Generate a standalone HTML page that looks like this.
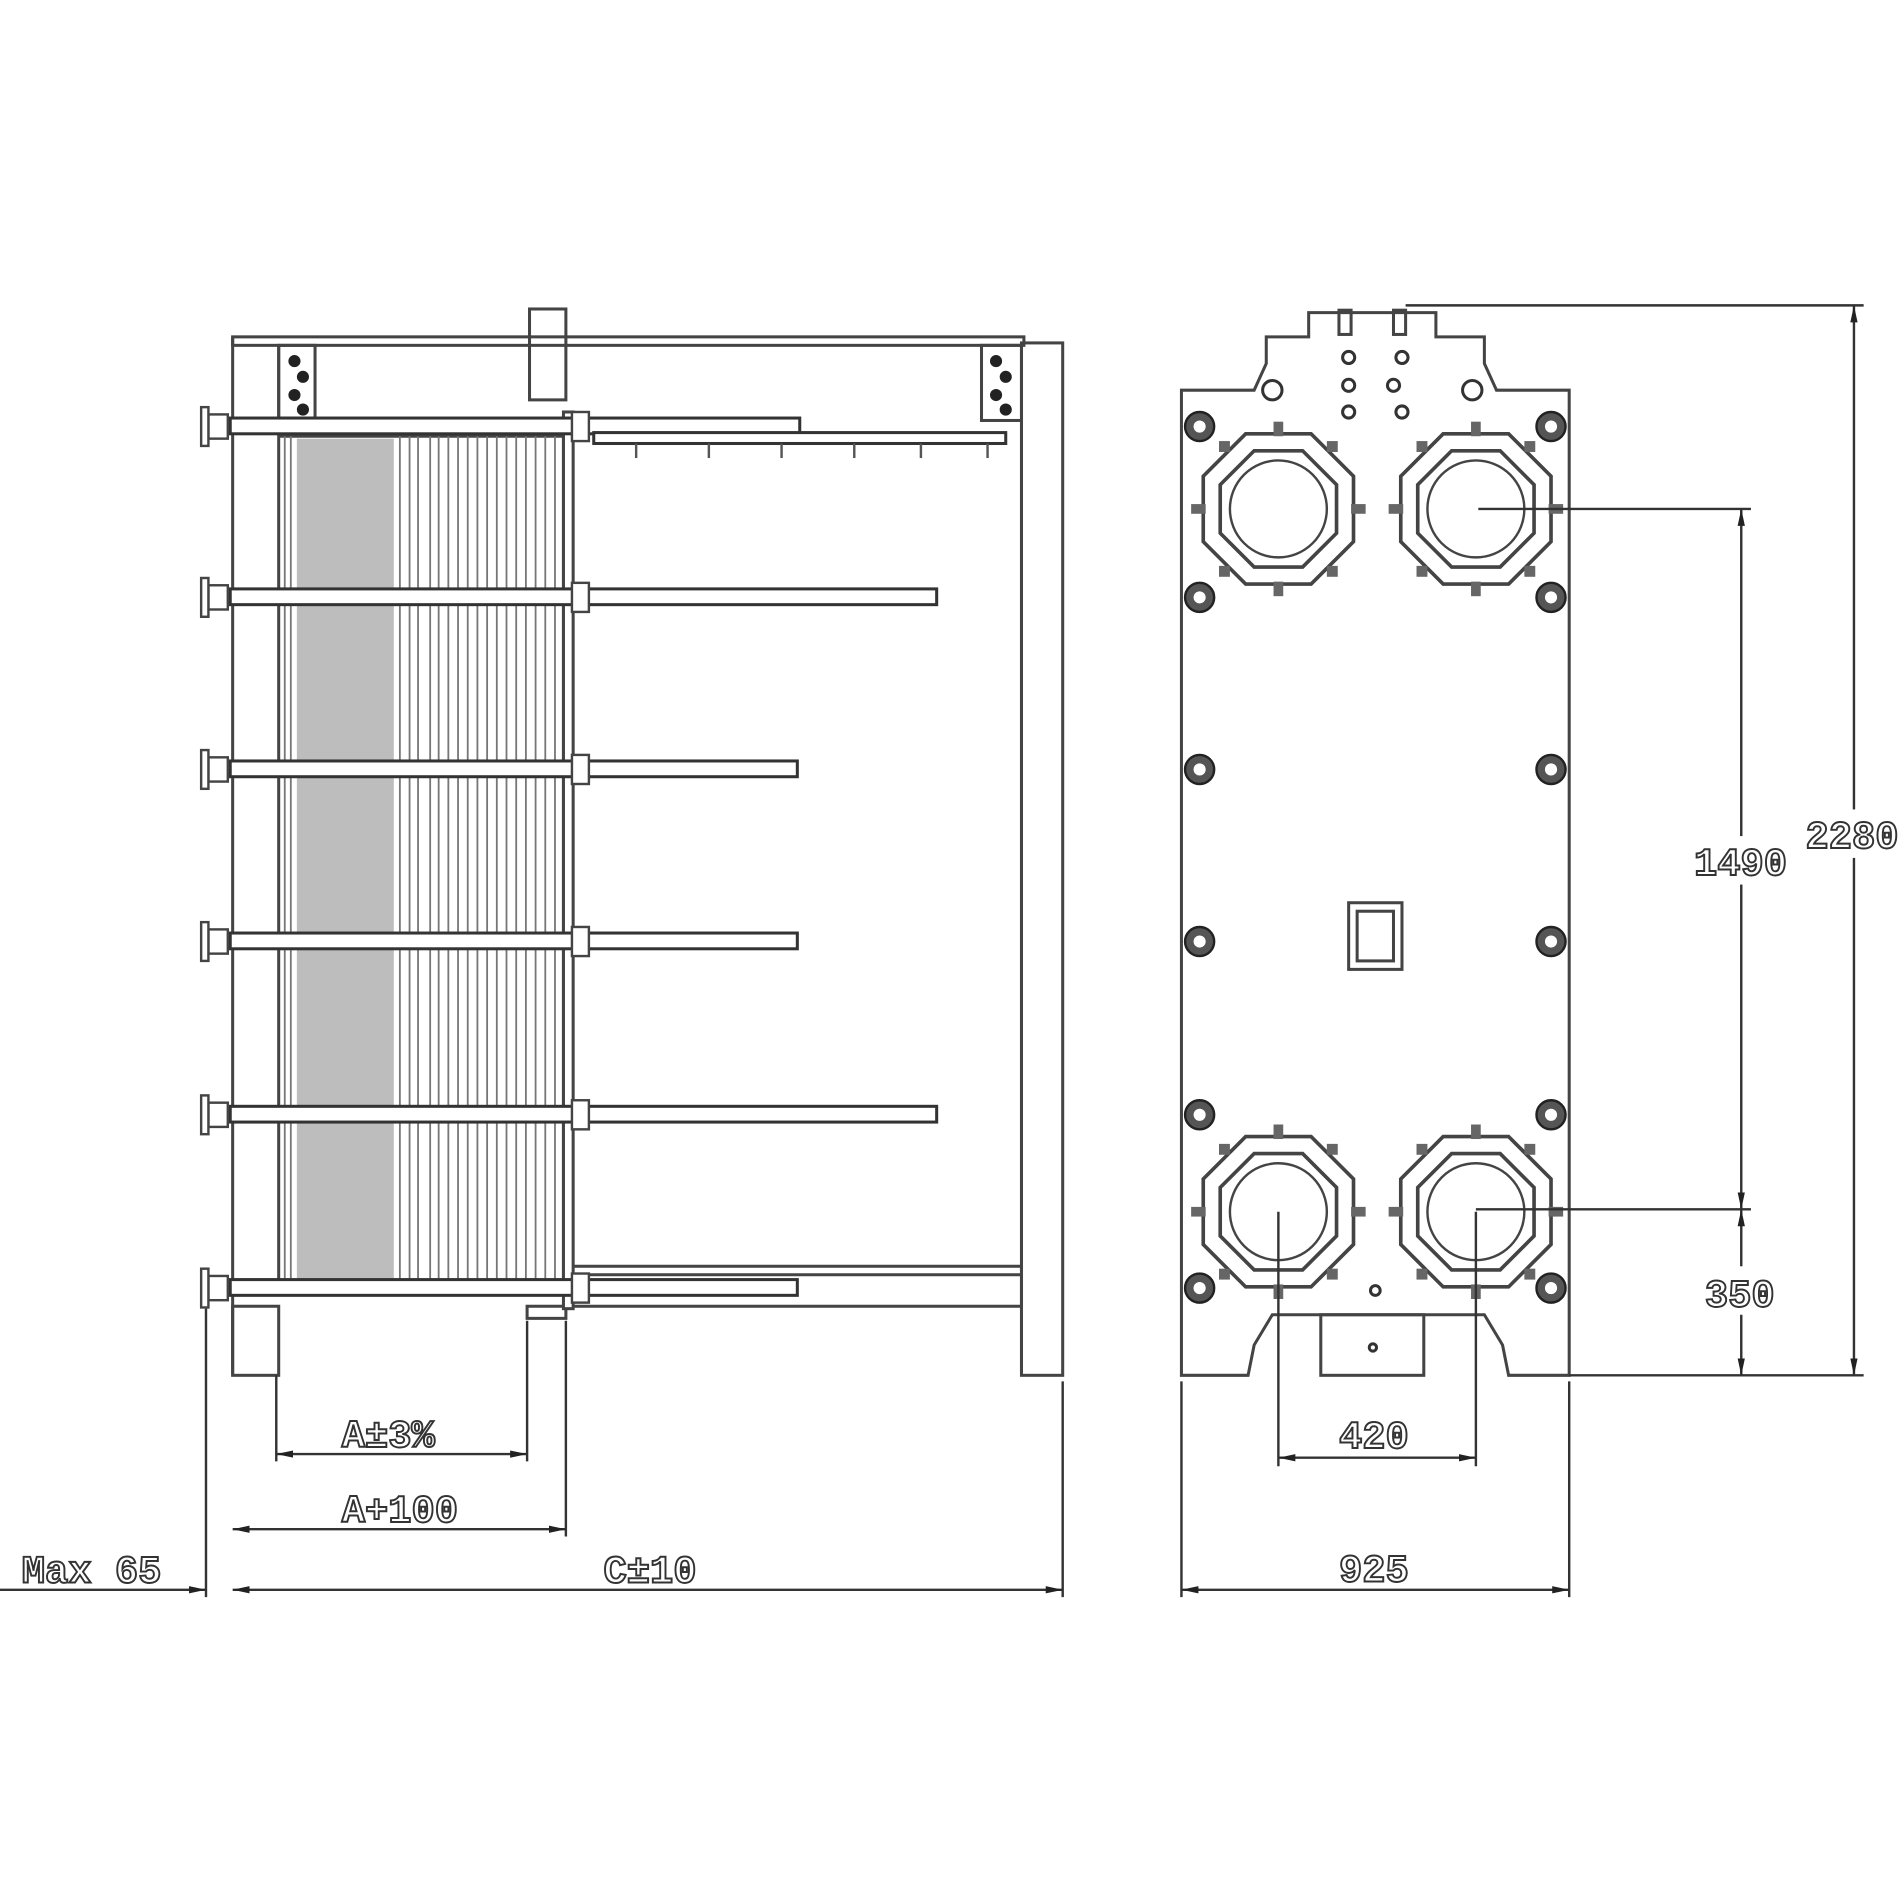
<!DOCTYPE html>
<html><head><meta charset="utf-8"><style>
html,body{margin:0;padding:0;background:#fff;width:1900px;height:1900px;overflow:hidden}
svg{display:block}
text{font-family:"Liberation Mono",monospace;font-size:32px;fill:#fff;stroke:#333;stroke-width:1.6;font-weight:bold}
</style></head><body>
<svg width="1900" height="1900" viewBox="0 0 1568 1568" xmlns="http://www.w3.org/2000/svg">
<defs>
<marker id="ar" markerWidth="14" markerHeight="8" refX="14" refY="4" orient="auto-start-reverse" markerUnits="userSpaceOnUse"><path d="M0,1 L14,4 L0,7 Z" fill="#222"/></marker>
<g id="bolt"><rect x="-8" y="-10" width="16" height="20" fill="#fff" stroke="#444" stroke-width="2"/><rect x="-14" y="-16" width="6" height="32" fill="#fff" stroke="#444" stroke-width="2"/></g>
<g id="nut"><circle r="12" fill="#555" stroke="#222" stroke-width="2"/><circle r="5" fill="#fff"/></g>
<g id="port" fill="none" stroke="#444" stroke-width="3">
<polygon points="-27,-62 27,-62 62,-27 62,27 27,62 -27,62 -62,27 -62,-27"/>
<polygon points="-20,-48 20,-48 48,-20 48,20 20,48 -20,48 -48,20 -48,-20"/>
<circle r="40" stroke-width="2"/>
<g fill="#666" stroke="none"><rect x="-4" y="-72" width="8" height="12"/><rect x="-4" y="60" width="8" height="12"/><rect x="-72" y="-4" width="12" height="8"/><rect x="60" y="-4" width="12" height="8"/><rect x="40" y="-56" width="9" height="9"/><rect x="-49" y="-56" width="9" height="9"/><rect x="40" y="47" width="9" height="9"/><rect x="-49" y="47" width="9" height="9"/></g>
</g>
</defs>

<!-- LEFT VIEW -->
<g fill="none" stroke="#444" stroke-width="2.5">
<rect x="192" y="278" width="653" height="7"/>
<line x1="192" y1="278" x2="192" y2="1135"/>
<line x1="230" y1="285" x2="230" y2="345"/>
<rect x="192" y="1078" width="38" height="57"/>
<rect x="843" y="283" width="34" height="852"/>
<line x1="843" y1="285" x2="843" y2="1135"/>
<rect x="810" y="285" width="33" height="62"/>
<rect x="230" y="285" width="30" height="60"/>
<rect x="437" y="255" width="30" height="75"/>
<rect x="470" y="1045" width="373" height="33"/>
<line x1="470" y1="1052" x2="843" y2="1052"/>
<rect x="435" y="1078" width="32" height="10"/>
<!-- plate pack -->
<rect x="230" y="360" width="235" height="700"/>
</g>
<rect x="245" y="362" width="80" height="696" fill="#bdbdbd"/>
<g stroke="#777" stroke-width="1.5">
<line x1="235" y1="360" x2="235" y2="1060"/><line x1="240" y1="360" x2="240" y2="1060"/>
<line x1="330" y1="360" x2="330" y2="1060"/><line x1="338" y1="360" x2="338" y2="1060"/>
<line x1="345" y1="360" x2="345" y2="1060"/><line x1="355" y1="360" x2="355" y2="1060"/>
<line x1="362" y1="360" x2="362" y2="1060"/><line x1="370" y1="360" x2="370" y2="1060"/>
<line x1="378" y1="360" x2="378" y2="1060"/><line x1="386" y1="360" x2="386" y2="1060"/>
<line x1="394" y1="360" x2="394" y2="1060"/><line x1="402" y1="360" x2="402" y2="1060"/>
<line x1="410" y1="360" x2="410" y2="1060"/><line x1="418" y1="360" x2="418" y2="1060"/>
<line x1="426" y1="360" x2="426" y2="1060"/><line x1="434" y1="360" x2="434" y2="1060"/>
<line x1="442" y1="360" x2="442" y2="1060"/><line x1="450" y1="360" x2="450" y2="1060"/>
<line x1="458" y1="360" x2="458" y2="1060"/>
</g>
<g fill="#fff" stroke="#444" stroke-width="2.5">
<rect x="465" y="340" width="8" height="740"/>
</g>
<!-- bolts -->
<g fill="#fff" stroke="#333" stroke-width="2.5">
<rect x="190" y="345" width="470" height="13"/>
<rect x="190" y="486" width="583" height="13"/>
<rect x="190" y="628" width="468" height="13"/>
<rect x="190" y="770" width="468" height="13"/>
<rect x="190" y="913" width="583" height="13"/>
<rect x="190" y="1056" width="468" height="13"/>
<rect x="490" y="357" width="340" height="9"/>
</g>
<g fill="none" stroke="#555" stroke-width="2">
<line x1="525" y1="366" x2="525" y2="378"/><line x1="585" y1="366" x2="585" y2="378"/><line x1="645" y1="366" x2="645" y2="378"/><line x1="705" y1="366" x2="705" y2="378"/><line x1="760" y1="366" x2="760" y2="378"/><line x1="815" y1="366" x2="815" y2="378"/>
</g>
<use href="#bolt" x="180" y="352"/><use href="#bolt" x="180" y="493"/><use href="#bolt" x="180" y="635"/><use href="#bolt" x="180" y="777"/><use href="#bolt" x="180" y="920"/><use href="#bolt" x="180" y="1063"/>
<g fill="#fff" stroke="#444" stroke-width="2">
<rect x="472" y="340" width="14" height="24"/><rect x="472" y="481" width="14" height="24"/><rect x="472" y="623" width="14" height="24"/><rect x="472" y="765" width="14" height="24"/><rect x="472" y="908" width="14" height="24"/><rect x="472" y="1051" width="14" height="24"/>
</g>
<g fill="#222"><circle cx="243" cy="298" r="5"/><circle cx="250" cy="311" r="5"/><circle cx="243" cy="326" r="5"/><circle cx="250" cy="338" r="5"/>
<circle cx="822" cy="298" r="5"/><circle cx="830" cy="311" r="5"/><circle cx="822" cy="326" r="5"/><circle cx="830" cy="338" r="5"/></g>

<!-- left dims -->
<g stroke="#333" stroke-width="2" fill="none">
<line x1="170" y1="1080" x2="170" y2="1318"/>
<line x1="228" y1="1135" x2="228" y2="1206"/><line x1="435" y1="1090" x2="435" y2="1206"/>
<line x1="467" y1="1090" x2="467" y2="1268"/><line x1="877" y1="1140" x2="877" y2="1318"/>
<line x1="228" y1="1200" x2="435" y2="1200" marker-start="url(#ar)" marker-end="url(#ar)"/>
<line x1="192" y1="1262" x2="467" y2="1262" marker-start="url(#ar)" marker-end="url(#ar)"/>
<line x1="192" y1="1312" x2="877" y2="1312" marker-start="url(#ar)" marker-end="url(#ar)"/>
<line x1="0" y1="1312" x2="170" y2="1312" marker-end="url(#ar)"/>
</g>
<text x="282" y="1194">A±3%</text>
<text x="282" y="1256">A+100</text>
<text x="498" y="1306">C±10</text>
<text x="18" y="1306">Max 65</text>

<!-- RIGHT VIEW -->
<g fill="none" stroke="#444" stroke-width="2.5">
<path d="M975,1135 L975,322 L1035,322 L1045,300 L1045,278 L1080,278 L1080,258 L1185,258 L1185,278 L1225,278 L1225,300 L1235,322 L1295,322 L1295,1135 L1245,1135 L1240,1110 L1225,1085 L1050,1085 L1035,1110 L1030,1135 Z"/>
<rect x="1090" y="1085" width="85" height="50"/>
<rect x="1113" y="745" width="44" height="55"/>
<rect x="1120" y="752" width="30" height="41"/>
<rect x="1105" y="256" width="10" height="20"/><rect x="1150" y="256" width="10" height="20"/>
</g>
<use href="#port" x="1055" y="420"/><use href="#port" x="1218" y="420"/>
<use href="#port" x="1055" y="1000"/><use href="#port" x="1218" y="1000"/>
<use href="#nut" x="990" y="352"/><use href="#nut" x="1280" y="352"/>
<use href="#nut" x="990" y="493"/><use href="#nut" x="1280" y="493"/>
<use href="#nut" x="990" y="635"/><use href="#nut" x="1280" y="635"/>
<use href="#nut" x="990" y="777"/><use href="#nut" x="1280" y="777"/>
<use href="#nut" x="990" y="920"/><use href="#nut" x="1280" y="920"/>
<use href="#nut" x="990" y="1063"/><use href="#nut" x="1280" y="1063"/>
<g fill="#fff" stroke="#333" stroke-width="2.5">
<circle cx="1113" cy="295" r="5"/><circle cx="1157" cy="295" r="5"/><circle cx="1113" cy="318" r="5"/><circle cx="1150" cy="318" r="5"/><circle cx="1113" cy="340" r="5"/><circle cx="1157" cy="340" r="5"/><circle cx="1135" cy="1065" r="4"/><circle cx="1133" cy="1112" r="3"/>
<circle cx="1050" cy="322" r="8"/><circle cx="1215" cy="322" r="8"/>
</g>
<!-- right dims -->
<g stroke="#333" stroke-width="2" fill="none">
<line x1="1160" y1="252" x2="1538" y2="252"/>
<line x1="1220" y1="420" x2="1445" y2="420"/>
<line x1="1218" y1="998" x2="1445" y2="998"/>
<line x1="1295" y1="1135" x2="1538" y2="1135"/>
<line x1="1530" y1="252" x2="1530" y2="1135" marker-start="url(#ar)" marker-end="url(#ar)"/>
<line x1="1437" y1="420" x2="1437" y2="998" marker-start="url(#ar)" marker-end="url(#ar)"/>
<line x1="1437" y1="998" x2="1437" y2="1135" marker-start="url(#ar)" marker-end="url(#ar)"/>
<line x1="1055" y1="1000" x2="1055" y2="1210"/><line x1="1218" y1="1000" x2="1218" y2="1210"/>
<line x1="1055" y1="1203" x2="1218" y2="1203" marker-start="url(#ar)" marker-end="url(#ar)"/>
<line x1="975" y1="1140" x2="975" y2="1318"/><line x1="1295" y1="1140" x2="1295" y2="1318"/>
<line x1="975" y1="1312" x2="1295" y2="1312" marker-start="url(#ar)" marker-end="url(#ar)"/>
</g>
<rect x="1395" y="690" width="82" height="40" fill="#fff"/>
<rect x="1488" y="668" width="80" height="40" fill="#fff"/>
<rect x="1405" y="1045" width="64" height="40" fill="#fff"/>
<text x="1398" y="722">1490</text>
<text x="1490" y="700">2280</text>
<text x="1407" y="1078">350</text>
<text x="1105" y="1195">420</text>
<text x="1105" y="1305">925</text>
</svg>
</body></html>
